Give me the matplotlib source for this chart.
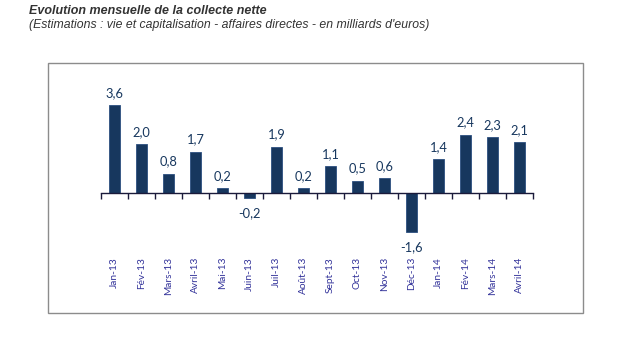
import numpy as np
import matplotlib.pyplot as plt
from matplotlib.patches import Rectangle

mois = ['Jan-13', 'Fév-13', 'Mars-13', 'Avril-13', 'Mai-13', 'Juin-13', 'Juil-13',
        'Août-13', 'Sept-13', 'Oct-13', 'Nov-13', 'Déc-13', 'Jan-14', 'Fév-14',
        'Mars-14', 'Avril-14']
collecte = [3.6, 2.0, 0.8, 1.7, 0.2, -0.2, 1.9, 0.2, 1.1, 0.5, 0.6, -1.6, 1.4, 2.4, 2.3, 2.1]

W, H = 620, 339
fig = plt.figure(figsize=(W / 100, H / 100), dpi=100)

def px_box(x0, y0, x1, y1):
    # pixel box (top-left origin) -> figure fraction
    return [x0 / W, 1 - y1 / H, (x1 - x0) / W, (y1 - y0) / H]

# outer grey frame
fig.patches.append(Rectangle((48 / W, 1 - 313 / H), (583 - 48) / W, (313 - 63) / H,
                             transform=fig.transFigure, fill=False,
                             edgecolor='#8c8c8c', linewidth=1.0))

fig.text(29 / W, 1 - 11 / H, 'Evolution mensuelle de la collecte nette',
         fontsize=9.0, fontweight='bold', style='italic', family='Liberation Sans',
         color='#333333', va='center')
fig.text(29 / W, 1 - 25 / H,
         "(Estimations : vie et capitalisation - affaires directes - en milliards d'euros)",
         fontsize=8.85, style='italic', family='Liberation Sans', color='#333333', va='center')

ax = fig.add_axes(px_box(101, 80, 533, 250))
x = np.arange(len(mois))
ax.bar(x, collecte, width=0.42, color='#17375e', edgecolor='#2c4f80', linewidth=0.6)
ax.set_xlim(-0.5, len(mois) - 0.5)
ax.set_ylim(-2.35, 4.65)

for s in ['top', 'right', 'left']:
    ax.spines[s].set_visible(False)
ax.spines['bottom'].set_position(('data', 0))
ax.spines['bottom'].set_color('#1a1a3a')
ax.spines['bottom'].set_linewidth(1.0)
ax.set_yticks([])

ax.set_xticks(x)
ax.set_xticklabels(mois, rotation=90, va='top', ha='center',
                   fontsize=7.3, family='Lato', color='#33339a')
ax.tick_params(axis='x', which='major', length=0, pad=46)
ax.set_xticks(np.arange(len(mois) + 1) - 0.5, minor=True)
ax.tick_params(axis='x', which='minor', length=4, width=1.0, color='#1a1a3a', direction='out')

for xi, v in zip(x, collecte):
    txt = f'{v:.1f}'.replace('.', ',')
    if v >= 0:
        ax.annotate(txt, (xi, v), xytext=(0, 4.5), textcoords='offset points',
                    ha='center', va='bottom', fontsize=9.3, family='Lato', color='#17375e')
    else:
        ax.annotate(txt, (xi, v), xytext=(0, -7), textcoords='offset points',
                    ha='center', va='top', fontsize=9.3, family='Lato', color='#17375e')

fig.savefig('out.png', dpi=100)
